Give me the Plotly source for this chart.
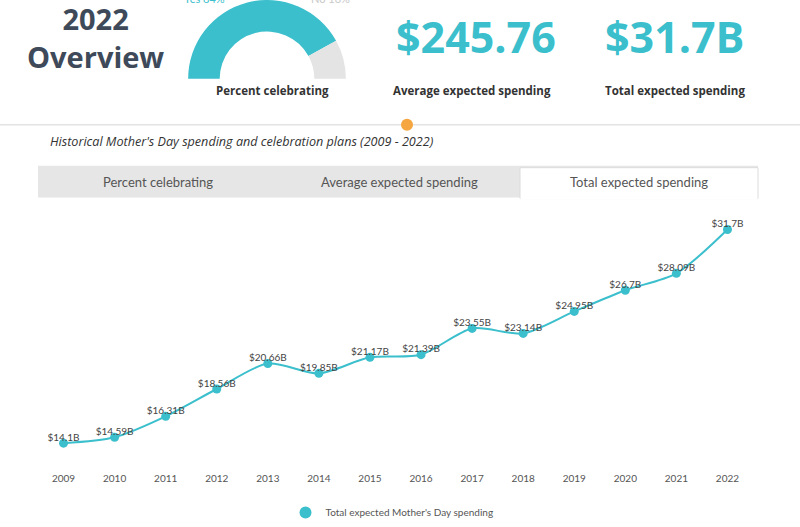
import plotly.graph_objects as go

W, H = 800, 527

# ---- data ----
years = [2009, 2010, 2011, 2012, 2013, 2014, 2015, 2016, 2017, 2018, 2019, 2020, 2021, 2022]
total_spending = [14.1, 14.59, 16.31, 18.56, 20.66, 19.85, 21.17, 21.39, 23.55, 23.14, 24.95, 26.7, 28.09, 31.7]
point_labels = [f"${v:g}B" for v in total_spending]
gauge_labels = ["Yes", "No"]
gauge_values = [84, 16]
avg_spending_2022 = "$245.76"
total_spending_2022 = "$31.7B"
tab_labels = ["Percent celebrating", "Average expected spending", "Total expected spending"]

TEAL = "#3bbfcc"
DARK = "#3e4a5a"
TXT = "#444444"


def px(x):
    return x / W


def py(y):
    return 1 - y / H


fig = go.Figure()

# main line
fig.add_trace(go.Scatter(
    x=years, y=total_spending, mode="lines",
    line=dict(color=TEAL, width=2, shape="spline", smoothing=0.8),
    showlegend=False, hoverinfo="skip"))
fig.add_trace(go.Scatter(
    x=years, y=total_spending, mode="markers",
    marker=dict(color=TEAL, size=9),
    name="Total expected Mother's Day spending"))
fig.add_trace(go.Scatter(
    x=years, y=total_spending, mode="text", text=point_labels,
    textposition="top center",
    textfont=dict(family="Lato", size=10, color=TXT),
    showlegend=False, hoverinfo="skip"))

# gauge (half donut)
fig.add_trace(go.Pie(
    values=gauge_values + [sum(gauge_values)],
    labels=gauge_labels + [""],
    marker=dict(colors=[TEAL, "#e4e4e4", "rgba(0,0,0,0)"], line=dict(width=0)),
    hole=0.6, sort=False, direction="clockwise", rotation=270,
    textinfo="none", hoverinfo="skip", showlegend=False,
    domain=dict(x=[px(187), px(347)], y=[py(158), py(0)])))

fig.update_layout(
    width=W, height=H, autosize=False,
    margin=dict(l=0, r=0, t=0, b=0),
    paper_bgcolor="white", plot_bgcolor="white",
    font=dict(family="Lato", color=TXT),
    xaxis=dict(domain=[px(38), px(753)], range=[2008.5, 2022.5],
               tickmode="array", tickvals=years, ticktext=[str(y) for y in years],
               showgrid=False, zeroline=False, showline=False, ticks="",
               tickfont=dict(family="Lato", size=10, color="#555555"),
               ticklabelstandoff=10, fixedrange=True),
    yaxis=dict(domain=[py(462), py(205)], range=[12.62, 33.75],
               showgrid=False, zeroline=False, showline=False,
               showticklabels=False, ticks=""),
    legend=dict(orientation="h", x=px(392), xanchor="center", y=py(513), yanchor="middle",
                font=dict(family="Lato", size=10, color="#555555"),
                itemsizing="constant"),
)

shapes = []
# header separator line and orange dot
shapes.append(dict(type="line", xref="paper", yref="paper", x0=0, x1=1, y0=py(125), y1=py(125),
                   line=dict(color="#e3e3e3", width=1.5)))
shapes.append(dict(type="circle", xref="paper", yref="paper",
                   x0=px(401), x1=px(413), y0=py(131), y1=py(119),
                   fillcolor="#f5a640", line=dict(width=0)))
# tabs
shapes.append(dict(type="rect", xref="paper", yref="paper",
                   x0=px(38), x1=px(758), y0=py(198), y1=py(166),
                   fillcolor="#e6e6e6", line=dict(width=0), layer="below"))
shapes.append(dict(type="rect", xref="paper", yref="paper",
                   x0=px(520), x1=px(758), y0=py(199), y1=py(168),
                   fillcolor="white", line=dict(color="#dcdcdc", width=1), layer="below"))
shapes.append(dict(type="line", xref="paper", yref="paper",
                   x0=px(520.5), x1=px(757.5), y0=py(199), y1=py(199),
                   line=dict(color="white", width=2), layer="below"))
fig.update_layout(shapes=shapes)

anns = []


def ann(text, x, y, size, color, family="Open Sans", xanchor="center"):
    anns.append(dict(text=text, x=px(x), y=py(y), xref="paper", yref="paper",
                     xanchor=xanchor, yanchor="middle", showarrow=False, borderpad=0,
                     font=dict(family=family, size=size, color=color)))


ann("<b>2022</b><br><b>Overview</b>", 95, 38, 29, DARK)
ann(f"{gauge_labels[0]} {gauge_values[0]}%", 205, -2, 11, TEAL, "Lato")
ann(f"{gauge_labels[1]} {gauge_values[1]}%", 330, -2, 11, "#c8c8c8", "Lato")
ann("<b>Percent celebrating</b>", 272, 91, 11.5, "#333333")
ann(f"<b>{avg_spending_2022}</b>", 476, 37, 43, TEAL)
ann("<b>Average expected spending</b>", 472, 91, 11.5, "#333333")
ann(f"<b>{total_spending_2022}</b>", 675, 37, 43, TEAL)
ann("<b>Total expected spending</b>", 675, 91, 11.5, "#333333")
ann("<i>Historical Mother's Day spending and celebration plans (2009 - 2022)</i>", 49, 142, 12.6,
    "#333333", "Open Sans", xanchor="left")
ann(tab_labels[0], 158, 182, 13, "#555555", "Lato")
ann(tab_labels[1], 399, 182, 13, "#555555", "Lato")
ann(tab_labels[2], 639, 182, 13, "#555555", "Lato")
fig.update_layout(annotations=anns)

fig.write_html("out.html", config={"displayModeBar": False},
               post_script="document.body.style.margin='0';document.body.style.overflow='hidden';")
